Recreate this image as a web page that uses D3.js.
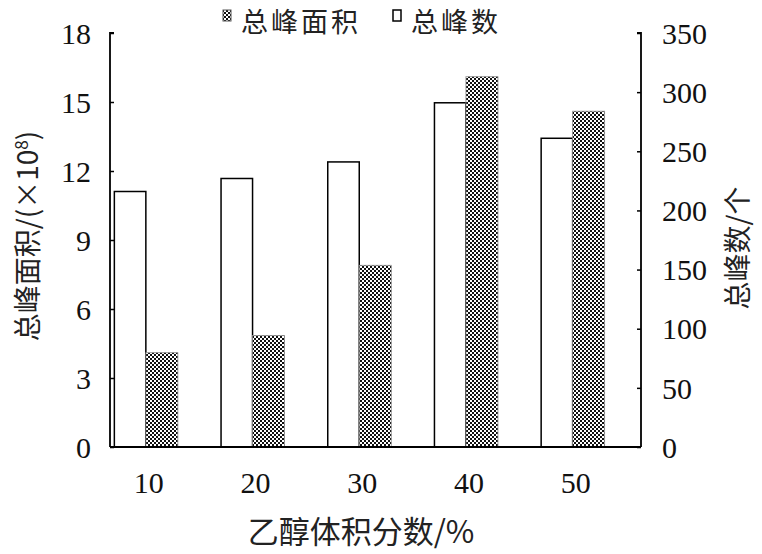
<!DOCTYPE html>
<html><head><meta charset="utf-8">
<script src="https://cdn.jsdelivr.net/npm/d3@7"></script>
<style>body{margin:0;background:#fff}svg{display:block}
.cjk{font-family:"Noto Sans CJK SC","Noto Sans CJK JP",sans-serif;}
</style>
</head><body>
<script>
const categories = ["10","20","30","40","50"];
const peakArea = [4.1, 4.85, 7.9, 16.1, 14.6];      // 总峰面积 (×10^8), left axis
const peakCount = [216, 227, 241, 291, 261];       // 总峰数 (个), right axis
const leftTicks = [0,3,6,9,12,15,18];
const rightTicks = [0,50,100,150,200,250,300,350];
const legendLabels = ["总峰面积","总峰数"];

// pick an installed serif font for the numerals
function hasFont(name){
  const c=document.createElement("canvas").getContext("2d");
  const s="0123456789 mmmmwwwlli";
  return ["monospace","sans-serif"].some(fb=>{
    c.font="40px "+fb; const w0=c.measureText(s).width;
    c.font=`40px "${name}", ${fb}`; return Math.abs(c.measureText(s).width-w0)>0.5;
  });
}
const serifCands=["Liberation Serif","Times New Roman","Tinos","DejaVu Serif","Noto Serif","FreeSerif","serif"];
const numFamily=serifCands.find(f=>f==="serif"||hasFont(f));
const numFont=numFamily==="serif"?"serif":`"${numFamily}", serif`;

const W=762,H=554;
const plotL=110, plotR=641, plotT=33, plotB=447;
const svg=d3.select("body").append("svg").attr("width",W).attr("height",H);

const defs=svg.append("defs");
const pat=defs.append("pattern").attr("id","chk").attr("patternUnits","userSpaceOnUse")
  .attr("width",4).attr("height",4);
pat.append("rect").attr("width",4).attr("height",4).attr("fill","#fff");
pat.append("rect").attr("x",0).attr("y",0).attr("width",2).attr("height",2).attr("fill","#111");
pat.append("rect").attr("x",2).attr("y",2).attr("width",2).attr("height",2).attr("fill","#111");

const x=d3.scaleBand().domain(categories).range([92.5,626]).padding(0);
const yL=d3.scaleLinear().domain([0,18]).range([plotB,plotT]);
const yR=d3.scaleLinear().domain([0,350]).range([plotB,plotT]);
const barW=31.5;

// white bars (count, right axis)
svg.append("g").selectAll("rect").data(categories).join("rect")
  .attr("x",d=>x(d)+x.bandwidth()/2-barW)
  .attr("y",(d,i)=>yR(peakCount[i]))
  .attr("width",barW)
  .attr("height",(d,i)=>plotB-yR(peakCount[i]))
  .attr("fill","#fff").attr("stroke","#000").attr("stroke-width",1.5);

// checkered bars (area, left axis)
svg.append("g").selectAll("rect").data(categories).join("rect")
  .attr("x",d=>x(d)+x.bandwidth()/2)
  .attr("y",(d,i)=>yL(peakArea[i]))
  .attr("width",barW+0.5)
  .attr("height",(d,i)=>plotB-yL(peakArea[i]))
  .attr("fill","url(#chk)").attr("stroke","#888").attr("stroke-width",0.8);

// axes
const axL=d3.axisLeft(yL).tickValues(leftTicks).tickSize(-4).tickPadding(19);
const gL=svg.append("g").attr("transform",`translate(${plotL},0)`).call(axL);
const axR=d3.axisRight(yR).tickValues(rightTicks).tickSize(-4).tickPadding(21);
const gR=svg.append("g").attr("transform",`translate(${plotR},0)`).call(axR);
[gL,gR].forEach(g=>{
  g.attr("font-family",numFont).attr("font-size",30);
  g.select(".domain").attr("stroke","#000").attr("stroke-width",1.8)
   .attr("d", g===gL ? `M4,${plotT}H0V${plotB}` : `M-4,${plotT}H0V${plotB}`);
  g.selectAll(".tick line").attr("stroke","#000").attr("stroke-width",1.5);
  g.selectAll(".tick text").style("font-family",numFont).attr("font-size",30).attr("fill","#111").attr("dy","0.34em");
});

// baseline
svg.append("line").attr("x1",plotL).attr("x2",plotR).attr("y1",plotB).attr("y2",plotB)
  .attr("stroke","#000").attr("stroke-width",2);

// x labels
svg.append("g").selectAll("text").data(categories).join("text")
  .style("font-family",numFont)
  .attr("x",d=>x(d)+x.bandwidth()/2+3).attr("y",493)
  .attr("text-anchor","middle").attr("font-size",30).attr("fill","#111")
  .text(d=>d);

// axis titles
svg.append("text").attr("class","cjk").attr("transform","translate(38,236) rotate(-90)").attr("text-anchor","middle")
  .attr("font-size",28).attr("fill","#222")
  .html('总峰面积/(×10<tspan dy="-10" font-size="17">8</tspan><tspan dy="10">)</tspan>');
svg.append("text").attr("class","cjk").attr("transform","translate(748,248) rotate(-90)").attr("text-anchor","middle")
  .attr("font-size",28).attr("fill","#222").text("总峰数/个");
svg.append("text").attr("class","cjk").attr("x",361).attr("y",543).attr("text-anchor","middle")
  .attr("font-size",31).attr("fill","#222").text("乙醇体积分数/%");

// legend
const lg=svg.append("g");
lg.append("rect").attr("x",223).attr("y",10).attr("width",8).attr("height",11)
  .attr("fill","url(#chk)").attr("stroke","#555").attr("stroke-width",1);
lg.append("text").attr("class","cjk").attr("x",241).attr("y",32).attr("font-size",27)
  .attr("letter-spacing",3).attr("fill","#222").text(legendLabels[0]);
lg.append("rect").attr("x",393).attr("y",10).attr("width",8).attr("height",11)
  .attr("fill","#fff").attr("stroke","#000").attr("stroke-width",1.5);
lg.append("text").attr("class","cjk").attr("x",411).attr("y",32).attr("font-size",27)
  .attr("letter-spacing",3).attr("fill","#222").text(legendLabels[1]);
</script>
</body></html>
